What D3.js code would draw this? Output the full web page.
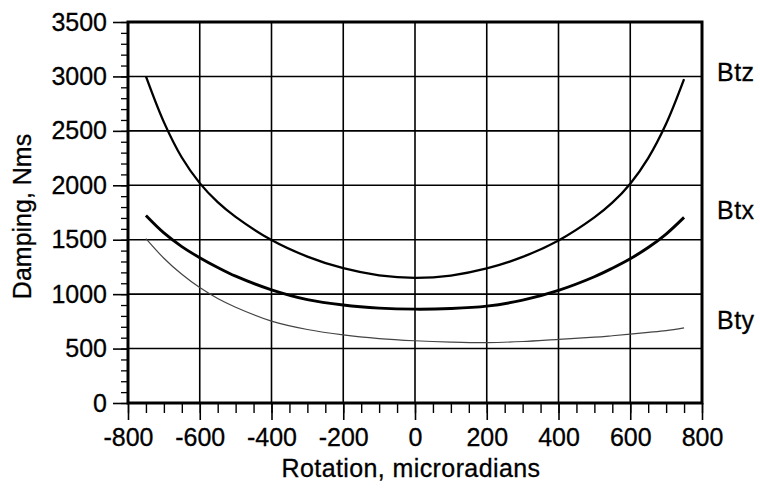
<!DOCTYPE html>
<html>
<head>
<meta charset="utf-8">
<script src="https://cdn.jsdelivr.net/npm/d3@7"></script>
<style>
  body { margin: 0; background: #fff; }
  text { font-family: "Liberation Sans", Arial, sans-serif; fill: #000; }
</style>
</head>
<body>
<div id="chart"></div>
<script>
// Rotation values (microradians) where the curves were read
const rotation = [-750, -700, -650, -600, -550, -500, -400, -300, -200, -100, 0, 100, 200, 300, 400, 500, 550, 600, 650, 700, 750];

// Damping values, Nms
const btz = [3000, 2580, 2255, 2020, 1845, 1710, 1497, 1345, 1238, 1173, 1150, 1171, 1236, 1342, 1493, 1705, 1840, 2015, 2250, 2565, 2975];
const btx = [1722, 1562, 1437, 1335, 1245, 1165, 1040, 950, 900, 872, 862, 868, 890, 945, 1035, 1160, 1238, 1325, 1428, 1552, 1705];
const bty = [1510, 1330, 1182, 1060, 960, 880, 752, 675, 625, 592, 572, 560, 555, 565, 585, 605, 618, 632, 648, 665, 690];

const xTicks = [-800, -600, -400, -200, 0, 200, 400, 600, 800];
const yTicks = [0, 500, 1000, 1500, 2000, 2500, 3000, 3500];

const series = [
  { name: "Btz", values: btz, width: 2.3, color: "#000" },
  { name: "Btx", values: btx, width: 2.9, color: "#000" },
  { name: "Bty", values: bty, width: 1.2, color: "#444" }
];

const W = 760, H = 491;
const margin = { top: 22, right: 58, bottom: 88, left: 128 };
const width = W - margin.left - margin.right;
const height = H - margin.top - margin.bottom;

const svg = d3.select("#chart").append("svg")
    .attr("width", W)
    .attr("height", H);

const g = svg.append("g")
    .attr("transform", `translate(${margin.left},${margin.top})`);

const x = d3.scaleLinear().domain([-800, 800]).range([0, width]);
const y = d3.scaleLinear().domain([0, 3500]).range([height, 0]);

// grid lines
g.selectAll(".vgrid").data(xTicks).enter().append("line")
    .attr("x1", d => x(d)).attr("x2", d => x(d))
    .attr("y1", 0).attr("y2", height)
    .attr("stroke", "#000").attr("stroke-width", 1.6);

g.selectAll(".hgrid").data(yTicks).enter().append("line")
    .attr("x1", 0).attr("x2", width)
    .attr("y1", d => y(d)).attr("y2", d => y(d))
    .attr("stroke", "#000").attr("stroke-width", 1.6);

// minor + major ticks on the x axis
g.append("g")
    .attr("transform", `translate(0,${height})`)
    .call(d3.axisBottom(x).tickValues(d3.range(-800, 801, 50)).tickSize(10).tickFormat(""))
    .call(a => a.select(".domain").remove())
    .selectAll("line").attr("stroke-width", 1.4);

g.append("g")
    .attr("transform", `translate(0,${height})`)
    .call(d3.axisBottom(x).tickValues(xTicks).tickSize(17).tickPadding(8).tickFormat(d => String(d)))
    .call(a => a.select(".domain").remove())
    .call(a => a.selectAll("line").attr("stroke-width", 1.6))
    .selectAll("text")
    .style("font-size", "25px")
    .attr("fill", "#000")
    .attr("stroke", "#000")
    .attr("stroke-width", 0.3);

// minor + major ticks on the y axis
g.append("g")
    .call(d3.axisLeft(y).tickValues(d3.range(0, 3501, 100)).tickSize(7).tickFormat(""))
    .call(a => a.select(".domain").remove())
    .selectAll("line").attr("stroke-width", 1.3);

g.append("g")
    .call(d3.axisLeft(y).tickValues(yTicks).tickSize(15).tickPadding(6).tickFormat(d => String(d)))
    .call(a => a.select(".domain").remove())
    .call(a => a.selectAll("line").attr("stroke-width", 1.6))
    .selectAll("text")
    .style("font-size", "25px")
    .attr("fill", "#000")
    .attr("stroke", "#000")
    .attr("stroke-width", 0.3);

// frame
g.append("rect")
    .attr("x", 0).attr("y", 0)
    .attr("width", width).attr("height", height)
    .attr("fill", "none")
    .attr("stroke", "#000")
    .attr("stroke-width", 3);

// curves
const line = d3.line()
    .x((d, i) => x(rotation[i]))
    .y(d => y(d))
    .curve(d3.curveCatmullRom.alpha(0.5));

g.selectAll(".curve").data(series).enter().append("path")
    .attr("d", d => line(d.values))
    .attr("fill", "none")
    .attr("stroke", d => d.color)
    .attr("stroke-width", d => d.width);

// series labels on the right
g.selectAll(".slabel").data(series).enter().append("text")
    .attr("x", width + 15)
    .attr("y", d => y(d.values[d.values.length - 1]) + 1.5)
    .style("font-size", "25px")
    .style("letter-spacing", "0.5px")
    .attr("stroke", "#000")
    .attr("stroke-width", 0.3)
    .text(d => d.name);

// axis titles
svg.append("text")
    .attr("x", margin.left + width / 2 - 4)
    .attr("y", 477)
    .attr("text-anchor", "middle")
    .style("font-size", "25px")
    .style("letter-spacing", "0.4px")
    .attr("stroke", "#000")
    .attr("stroke-width", 0.3)
    .text("Rotation, microradians");

svg.append("text")
    .attr("transform", `translate(31,${margin.top + height / 2 + 4}) rotate(-90)`)
    .attr("text-anchor", "middle")
    .style("font-size", "25px")
    .attr("stroke", "#000")
    .attr("stroke-width", 0.3)
    .text("Damping, Nms");
</script>
</body>
</html>
